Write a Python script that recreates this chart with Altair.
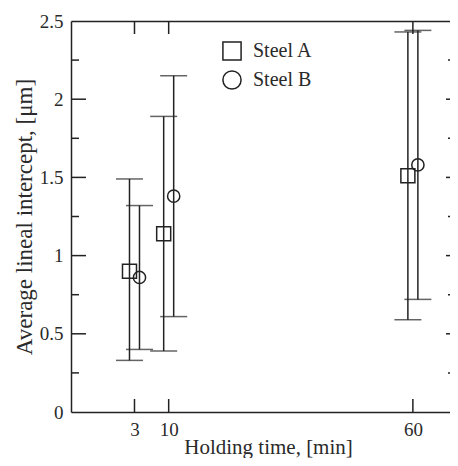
import altair as alt
import pandas as pd

# ---- data ----
times = [3, 10, 60]
series = ["Steel A", "Steel B"]
steel_a_mean = [0.90, 1.14, 1.51]
steel_a_low = [0.33, 0.39, 0.59]
steel_a_high = [1.49, 1.89, 2.43]
steel_b_mean = [0.86, 1.38, 1.58]
steel_b_low = [0.40, 0.61, 0.72]
steel_b_high = [1.32, 2.15, 2.44]

y_label_values = [0, 0.5, 1, 1.5, 2, 2.5]
y_major_ticks = [0.5, 1.0, 1.5, 2.0]
y_minor_ticks = [0.25, 0.75, 1.25, 1.75, 2.25]
x_tick_values = [3, 10, 60]

W, H = 379, 391
INK = "#222222"
TXT = "#2a2a2a"
FONT = "Liberation Serif"

df_a = pd.DataFrame({"time": times, "mean": steel_a_mean, "low": steel_a_low,
                     "high": steel_a_high, "series": series[0]})
df_b = pd.DataFrame({"time": times, "mean": steel_b_mean, "low": steel_b_low,
                     "high": steel_b_high, "series": series[1]})

xscale = alt.Scale(domain=[-10, 67.6], nice=False, zero=False)
yscale = alt.Scale(domain=[0, 2.5], nice=False, zero=True)

x_axis = alt.Axis(values=x_tick_values, ticks=False, grid=False, domainColor=INK,
                  domainWidth=1.5, labelFont=FONT, labelFontSize=19, labelColor=TXT,
                  labelPadding=8, title="Holding time, [min]", titleFont=FONT,
                  titleFontSize=21, titleFontWeight="normal", titleColor=TXT,
                  titleBaseline="alphabetic", titleY=41.5, titleX=197)
y_axis = alt.Axis(values=y_label_values, format="~g", ticks=False, grid=False,
                  domainColor=INK, domainWidth=1.5, labelFont=FONT, labelFontSize=19,
                  labelColor=TXT, labelPadding=8, title="Average lineal intercept, [μm]",
                  titleFont=FONT, titleFontSize=23, titleFontWeight="normal",
                  titleColor=TXT, titleBaseline="alphabetic", titleX=-40)

shape_scale = alt.Scale(domain=series, range=["square", "circle"])
legend = alt.Legend(title=None, orient="none", legendX=151, legendY=20,
                    labelFont=FONT, labelFontSize=20, labelColor=TXT,
                    symbolSize=330, symbolStrokeColor=INK, symbolFillColor="transparent",
                    symbolStrokeWidth=1.5, labelOffset=11, rowPadding=3, padding=0)


def series_layers(df, offset, size):
    base = alt.Chart(df)
    rule = base.mark_rule(color=INK, strokeWidth=1.5, xOffset=offset).encode(
        x=alt.X("time:Q", scale=xscale),
        y=alt.Y("low:Q", scale=yscale),
        y2="high:Q",
    )
    cap_hi = base.mark_tick(orient="horizontal", color=INK, thickness=1.5, size=27,
                            xOffset=offset).encode(
        x=alt.X("time:Q", scale=xscale),
        y=alt.Y("high:Q", scale=yscale),
    )
    cap_lo = base.mark_tick(orient="horizontal", color=INK, thickness=1.5, size=27,
                            xOffset=offset).encode(
        x=alt.X("time:Q", scale=xscale),
        y=alt.Y("low:Q", scale=yscale),
    )
    pts = base.mark_point(filled=False, color=INK, strokeWidth=1.5, size=size,
                          xOffset=offset, opacity=1).encode(
        x=alt.X("time:Q", scale=xscale),
        y=alt.Y("mean:Q", scale=yscale),
        shape=alt.Shape("series:N", scale=shape_scale, legend=legend),
    )
    return [rule, cap_hi, cap_lo, pts]


# inward ticks
ymaj = pd.DataFrame({"v": y_major_ticks})
ymin = pd.DataFrame({"v": y_minor_ticks})
xt = pd.DataFrame({"v": x_tick_values})
tick_style = dict(color=INK, strokeWidth=1.5)
ticks = [
    alt.Chart(ymaj).mark_rule(**tick_style).encode(
        y=alt.Y("v:Q", scale=yscale), x=alt.value(0), x2=alt.value(15)),
    alt.Chart(ymin).mark_rule(**tick_style).encode(
        y=alt.Y("v:Q", scale=yscale), x=alt.value(0), x2=alt.value(8)),
    alt.Chart(ymaj).mark_rule(**tick_style).encode(
        y=alt.Y("v:Q", scale=yscale), x=alt.value(W - 4), x2=alt.value(W)),
    alt.Chart(ymin).mark_rule(**tick_style).encode(
        y=alt.Y("v:Q", scale=yscale), x=alt.value(W - 2), x2=alt.value(W)),
    alt.Chart(xt).mark_rule(**tick_style).encode(
        x=alt.X("v:Q", scale=xscale), y=alt.value(0), y2=alt.value(13)),
    alt.Chart(xt).mark_rule(**tick_style).encode(
        x=alt.X("v:Q", scale=xscale), y=alt.value(H - 13), y2=alt.value(H)),
]

# top frame: an axis showing only its domain line
top_axis = alt.Chart(xt).mark_rule(opacity=0).encode(
    x=alt.X("v:Q", scale=xscale,
            axis=alt.Axis(orient="top", labels=False, ticks=False, title=None,
                          domainColor=INK, domainWidth=1.5, grid=False)),
)

main = alt.layer(*series_layers(df_a, -5, 196), *series_layers(df_b, 5, 150), *ticks
                 ).encode(x=alt.X(axis=x_axis), y=alt.Y(axis=y_axis))

chart = alt.layer(main, top_axis).resolve_axis(x="independent").properties(
    width=W, height=H,
    autosize=alt.AutoSizeParams(type="none"),
    padding={"left": 63, "top": 13, "right": 0, "bottom": 46},
    background="white",
).configure_view(stroke=None)

chart.save("out.html", embed_options={"renderer": "svg", "actions": False})
